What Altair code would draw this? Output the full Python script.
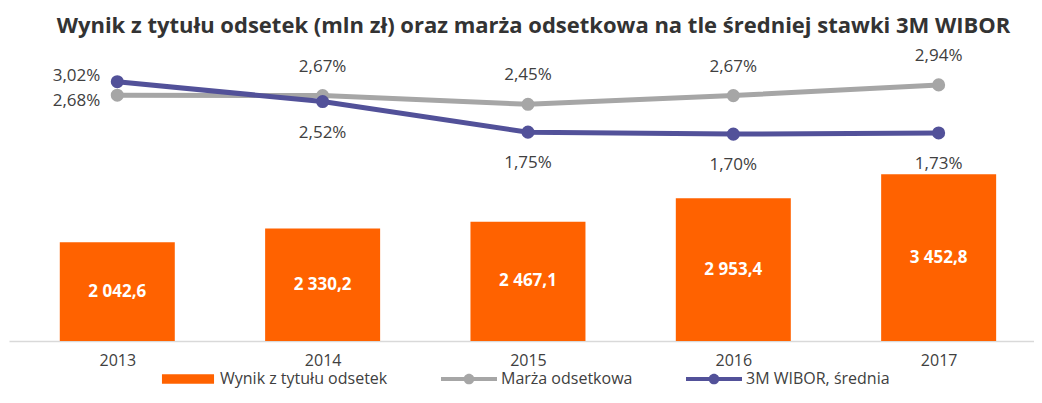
import altair as alt
import pandas as pd

# ---- data ----
years = [2013, 2014, 2015, 2016, 2017]
wynik = [2042.6, 2330.2, 2467.1, 2953.4, 3452.8]
marza = [2.68, 2.67, 2.45, 2.67, 2.94]
wibor = [3.02, 2.52, 1.75, 1.70, 1.73]

S_BAR = "Wynik z tytułu odsetek"
S_MARZA = "Marża odsetkowa"
S_WIBOR = "3M WIBOR, średnia"
SERIES = [S_BAR, S_MARZA, S_WIBOR]

ORANGE = "#FF6200"
GRAY = "#A6A6A6"
BLUE = "#525199"
FONT = "Open Sans"
TXT = "#404040"


def pl_num(v):
    return f"{v:,.1f}".replace(",", " ").replace(".", ",")


def pl_pct(v):
    return f"{v:.2f}".replace(".", ",") + "%"


bars_df = pd.DataFrame({
    "year": years,
    "value": wynik,
    "series": [S_BAR] * len(years),
    "label": [pl_num(v) for v in wynik],
})
lines_df = pd.DataFrame({
    "year": years + years,
    "value": marza + wibor,
    "series": [S_MARZA] * len(years) + [S_WIBOR] * len(years),
    "label": [pl_pct(v) for v in marza + wibor],
})

color_scale = alt.Scale(domain=SERIES, range=[ORANGE, GRAY, BLUE])
RECT_PATH = "M-0.93,-0.17H0.93V0.17H-0.93Z"
LINE_PATH = ("M-1,-0.07H1V0.07H-1Z"
             "M-0.19,0A0.19,0.19 0 1,1 0.19,0A0.19,0.19 0 1,1 -0.19,0Z")
shape_scale = alt.Scale(domain=SERIES, range=[RECT_PATH, LINE_PATH, LINE_PATH])

X_DOMAIN = [2012.497, 2017.440]
x_enc = alt.X(
    "year:Q",
    title=None,
    scale=alt.Scale(domain=X_DOMAIN, nice=False, zero=False),
    axis=alt.Axis(
        values=years,
        format="d",
        labelAngle=0,
        labelFont=FONT,
        labelFontSize=16,
        labelColor=TXT,
        labelPadding=11,
        labelFlush=False,
        ticks=False,
        grid=False,
        domainColor="#D9D9D9",
        domainWidth=1.5,
    ),
)
BAR_DOMAIN = [0, 6025]
LINE_DOMAIN = [-3.511, 3.819]
y_bar = alt.Y("value:Q", scale=alt.Scale(domain=BAR_DOMAIN, nice=False, zero=False), axis=None)
y_line = alt.Y("value:Q", scale=alt.Scale(domain=LINE_DOMAIN, nice=False, zero=False), axis=None)


def make_legend():
    return alt.Legend(
        title=None,
        orient="none",
        legendX=151,
        legendY=301,
        direction="horizontal",
        labelFont=FONT,
        labelFontSize=16,
        labelColor=TXT,
        labelLimit=0,
        symbolSize=3136,
        symbolStrokeWidth=0,
        symbolOffset=0,
        labelOffset=4,
        columnPadding=53,
        padding=0,
    )


bars = alt.Chart(bars_df).mark_bar(size=115).encode(
    x=x_enc,
    y=y_bar,
    color=alt.Color("series:N", scale=color_scale),
)
bar_labels = alt.Chart(bars_df).transform_calculate(
    mid="datum.value / 2"
).mark_text(
    font=FONT, fontSize=17, fontWeight="bold", color="white", baseline="middle"
).encode(
    x=x_enc,
    y=alt.Y("mid:Q", scale=alt.Scale(domain=BAR_DOMAIN, nice=False, zero=False), axis=None),
    text="label:N",
)

# legend-only layer (no rows drawn; entries come from the explicit scale domains)
legend_layer = alt.Chart(lines_df).transform_filter("false").mark_point(
    filled=True, opacity=1
).encode(
    x=x_enc,
    y=y_line,
    color=alt.Color("series:N", scale=color_scale, legend=make_legend()),
    shape=alt.Shape("series:N", scale=shape_scale, legend=make_legend()),
)


def series_layers(name):
    base = alt.Chart(lines_df).transform_filter(alt.datum.series == name)
    line = base.mark_line(strokeWidth=5).encode(
        x=x_enc, y=y_line, color=alt.Color("series:N", scale=color_scale)
    )
    pts = base.mark_circle(size=170, opacity=1).encode(
        x=x_enc, y=y_line, color=alt.Color("series:N", scale=color_scale)
    )
    return line, pts


def label_layer(name, first_dy, other_dy):
    base = alt.Chart(lines_df).transform_filter(alt.datum.series == name)
    first = base.transform_filter(alt.datum.year == years[0]).mark_text(
        font=FONT, fontSize=17, color=TXT, align="right", baseline="middle",
        dx=-17, dy=first_dy,
    ).encode(x=x_enc, y=y_line, text="label:N")
    rest = base.transform_filter(alt.datum.year != years[0]).mark_text(
        font=FONT, fontSize=17, color=TXT, align="center", baseline="middle",
        dy=other_dy,
    ).encode(x=x_enc, y=y_line, text="label:N")
    return first, rest


g_line, g_pts = series_layers(S_MARZA)
b_line, b_pts = series_layers(S_WIBOR)
g_l1, g_l2 = label_layer(S_MARZA, 6, -29)
b_l1, b_l2 = label_layer(S_WIBOR, -6, 31)

chart = alt.layer(
    legend_layer, bars, bar_labels, g_line, g_pts, b_line, b_pts, g_l1, g_l2, b_l1, b_l2
).resolve_scale(
    y="independent"
).properties(
    width=1025,
    height=291,
    autosize=alt.AutoSizeParams(type="none"),
    padding={"left": 1, "top": 42, "right": 0, "bottom": 49},
    title=alt.TitleParams(
        "Wynik z tytułu odsetek (mln zł) oraz marża odsetkowa na tle średniej stawki 3M WIBOR",
        font=FONT,
        fontSize=22,
        fontWeight="bold",
        color="#333333",
        anchor="middle",
        offset=9,
        dx=12,
    ),
).configure_view(stroke=None)

chart.save("out.html", embed_options={"renderer": "svg", "actions": False})
